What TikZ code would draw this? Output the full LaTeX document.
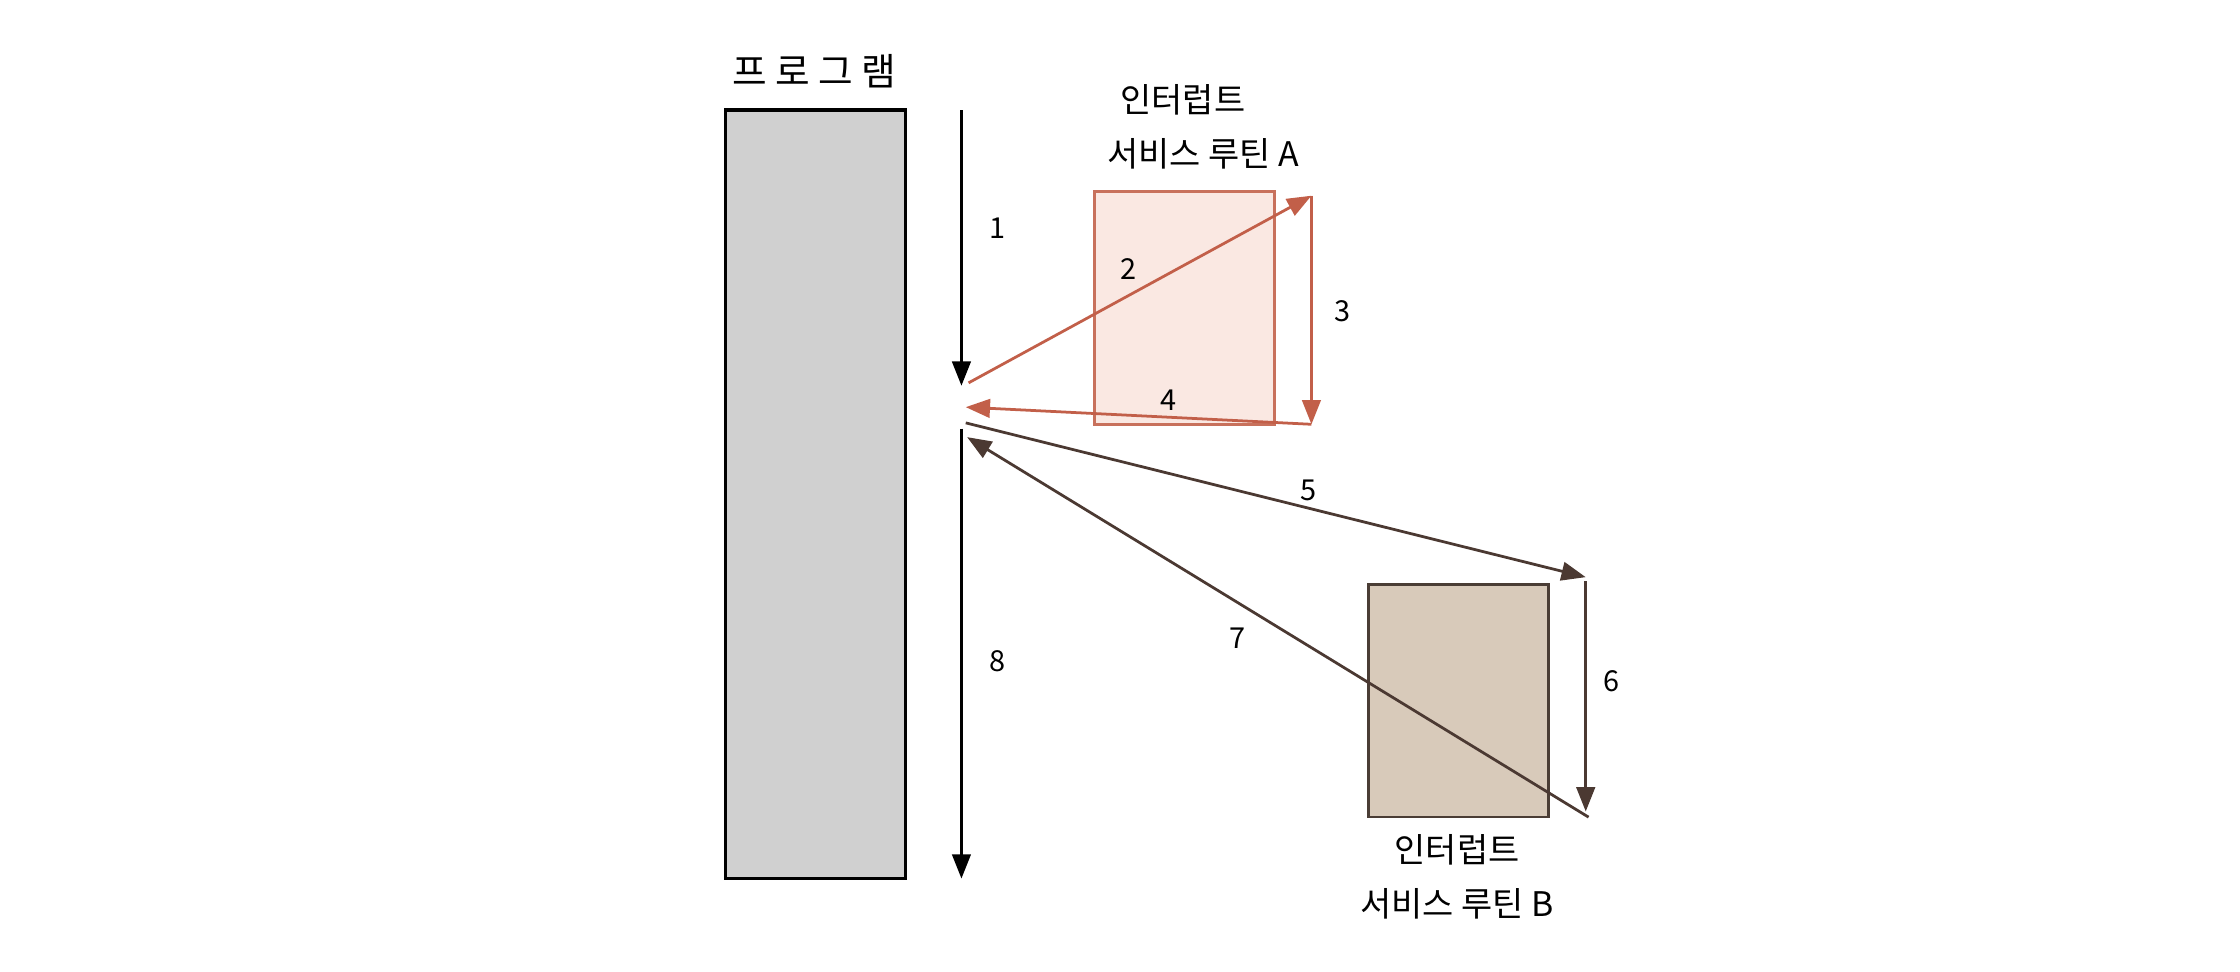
\documentclass[tikz,border=0pt]{standalone}
\usepackage{fontspec}
\setmainfont{Noto Sans CJK KR}
\usetikzlibrary{arrows.meta}
\definecolor{progfill}{HTML}{D0D0D0}
\definecolor{afill}{HTML}{FAE8E2}
\definecolor{adraw}{HTML}{C8715C}
\definecolor{arA}{HTML}{C25F49}
\definecolor{bfill}{HTML}{D8CABA}
\definecolor{bdraw}{HTML}{4A3D35}
\definecolor{arB}{HTML}{4B3932}
\tikzset{
  box/.style={draw, inner sep=0pt, outer sep=0pt, anchor=north west, minimum width=2.52cm},
  progbox/.style={box, fill=progfill, draw=black, line width=1.3pt, minimum height=10.76cm},
  aboxst/.style={box, fill=afill, draw=adraw, line width=1pt, minimum height=3.26cm},
  bboxst/.style={box, fill=bfill, draw=bdraw, line width=1.1pt, minimum height=3.26cm},
  ttl/.style={font=\fontsize{13.5}{17}\selectfont, align=center, inner sep=0pt},
  lbl/.style={font=\fontsize{11.5}{13}\selectfont, inner sep=0pt},
  tip/.style={-{Triangle[length=3.4mm,width=2.6mm]}},
  arrK/.style={draw=black, line width=1pt, tip},
  arrA/.style={draw=arA, line width=1.1pt, tip},
  arrB/.style={draw=arB, line width=1.1pt, tip},
}
\begin{document}
\begin{tikzpicture}[x=0.02cm,y=-0.02cm]
\useasboundingbox (0,0) rectangle (1568,680);
\fill[white] (0,0) rectangle (1568,680);

% program
\node[ttl, font=\fontsize{15}{17}\selectfont] (progt) at (570,50) {프 로 그 램};
\node[progbox] (prog) at (508,77) {};

% interrupt service routine A
\node[ttl] (at1) at (828,70) {인터럽트};
\node[ttl] (at2) at (842,108) {서비스 루틴 A};
\node[aboxst] (boxA) at (766,134) {};

% interrupt service routine B
\node[bboxst] (boxB) at (958,409) {};
\node[ttl] (bt1) at (1020,595) {인터럽트};
\node[ttl] (bt2) at (1020,633) {서비스 루틴 B};

% coordinates
\coordinate (k1s) at (673,77);
\coordinate (k1e) at (673,270);
\coordinate (k8s) at (673,300);
\coordinate (k8e) at (673,615);
\coordinate (a2s) at (678,268);
\coordinate (aTR) at (918,137);
\coordinate (aBR) at (918,297);
\coordinate (a4e) at (676,285);
\coordinate (b5s) at (676,296);
\coordinate (bTR) at (1110,404);
\coordinate (b6s) at (1110,407);
\coordinate (bBR) at (1110,568);
\coordinate (b7s) at (1112,572);
\coordinate (b7e) at (677,306);

% arrows
\draw[arrK] (k1s) -- (k1e);
\draw[arrK] (k8s) -- (k8e);
\draw[arrA] (a2s) -- (aTR);
\draw[arrA] (aTR) -- (aBR);
\draw[arrA] (aBR) -- (a4e);
\draw[arrB] (b5s) -- (bTR);
\draw[arrB] (b6s) -- (bBR);
\draw[arrB] (b7s) -- (b7e);

% labels
\node[lbl] (l1) at (698,160) {1};
\node[lbl] (l2) at (790,188) {2};
\node[lbl] (l3) at (940,218) {3};
\node[lbl] (l4) at (818,280) {4};
\node[lbl] (l5) at (916,343) {5};
\node[lbl] (l6) at (1128,477) {6};
\node[lbl] (l7) at (866,447) {7};
\node[lbl] (l8) at (698,463) {8};
\end{tikzpicture}
\end{document}
